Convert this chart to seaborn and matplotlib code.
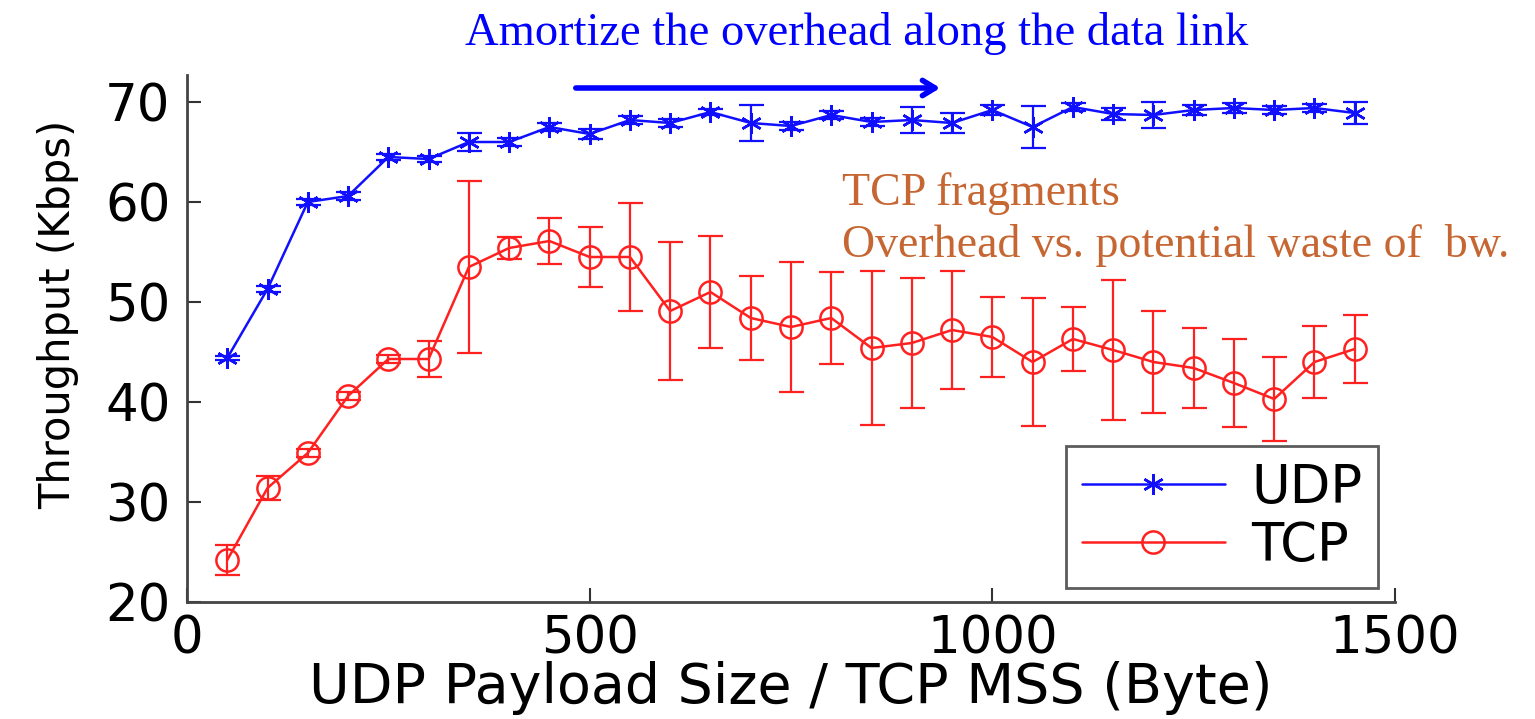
import numpy as np
import pandas as pd
import seaborn as sns
import matplotlib.pyplot as plt

# Data
payload_size = [50, 100, 150, 200, 250, 300, 350, 400, 450, 500,
                550, 600, 650, 700, 750, 800, 850, 900, 950, 1000,
                1050, 1100, 1150, 1200, 1250, 1300, 1350, 1400, 1450]
udp_mean = [44.4, 51.3, 60.0, 60.6, 64.5, 64.3, 66.0, 66.0, 67.5, 66.8,
            68.2, 67.9, 69.0, 67.9, 67.6, 68.7, 68.0, 68.2, 67.9, 69.2,
            67.5, 69.5, 68.8, 68.7, 69.2, 69.4, 69.2, 69.4, 68.9]
udp_err = [0.2, 0.3, 0.3, 0.4, 0.3, 0.3, 0.9, 0.4, 0.4, 0.5,
           0.4, 0.4, 0.3, 1.8, 0.4, 0.4, 0.4, 1.3, 1.0, 0.5,
           2.1, 0.4, 0.6, 1.3, 0.5, 0.5, 0.4, 0.4, 1.1]
tcp_mean = [24.2, 31.4, 34.9, 40.6, 44.3, 44.3, 53.5, 55.4, 56.1, 54.5,
            54.5, 49.1, 51.0, 48.4, 47.5, 48.4, 45.4, 45.9, 47.2, 46.5,
            44.0, 46.3, 45.2, 44.0, 43.4, 41.9, 40.3, 44.0, 45.3]
tcp_err = [1.5, 1.2, 0.4, 0.4, 0.4, 1.8, 8.6, 1.1, 2.3, 3.0,
           5.4, 6.9, 5.6, 4.2, 6.5, 4.6, 7.7, 6.5, 5.9, 4.0,
           6.4, 3.2, 7.0, 5.1, 4.0, 4.4, 4.2, 3.6, 3.4]
x_ticks = [0, 500, 1000, 1500]
y_ticks = [20, 30, 40, 50, 60, 70]

df = pd.DataFrame({'size': payload_size, 'udp': udp_mean, 'udp_err': udp_err,
                   'tcp': tcp_mean, 'tcp_err': tcp_err})

sns.set_style('ticks')
plt.rcParams['font.family'] = ['DejaVu Sans']
plt.rcParams['text.color'] = 'black'

fig = plt.figure(figsize=(15.35, 7.19), dpi=100)
ax = fig.add_axes([187 / 1535, 1 - 602 / 719, (1395 - 187) / 1535, (602 - 75) / 719])

udp_color = '#1010FF'
tcp_color = '#FF2020'

# error bars
ax.errorbar(df['size'], df['udp'], yerr=df['udp_err'], fmt='none', ecolor=udp_color,
            elinewidth=1.6, capsize=9, capthick=1.6)
ax.errorbar(df['size'], df['tcp'], yerr=df['tcp_err'], fmt='none', ecolor=tcp_color,
            elinewidth=1.6, capsize=9, capthick=1.6)

sns.lineplot(data=df, x='size', y='udp', ax=ax, color=udp_color, lw=1.8,
             marker=(6, 2, 0), markersize=15, markeredgecolor=udp_color,
             markeredgewidth=1.8, label='UDP')
sns.lineplot(data=df, x='size', y='tcp', ax=ax, color=tcp_color, lw=1.8,
             marker='o', markersize=16, markerfacecolor='none', markeredgecolor=tcp_color,
             markeredgewidth=1.8, label='TCP')

ax.set_xlim(0, 1500)
ax.set_ylim(20, 72.7)
ax.set_xticks(x_ticks)
ax.set_yticks(y_ticks)
ax.tick_params(direction='in', length=10, width=1.5, colors='#333333',
               labelsize=37, labelcolor='black')
ax.tick_params(axis='x', pad=9)
ax.tick_params(axis='y', pad=12)
for side in ['top', 'right']:
    ax.spines[side].set_visible(False)
for side in ['left', 'bottom']:
    ax.spines[side].set_color('#444444')
    ax.spines[side].set_linewidth(2)

ax.set_xlabel('UDP Payload Size / TCP MSS (Byte)', fontsize=40, color='black')
ax.xaxis.set_label_coords(0.5, -0.112)
ax.set_ylabel('Throughput (Kbps)', fontsize=30, color='black')
ax.yaxis.set_label_coords(-0.089, 0.545)

leg = ax.legend(loc='lower right', bbox_to_anchor=(0.986, 0.027), borderaxespad=0,
                fontsize=38, frameon=True, fancybox=False, handlelength=2.7,
                handletextpad=0.5, labelspacing=0.12, borderpad=0.3)
leg.get_frame().set_edgecolor('#333333')
leg.get_frame().set_linewidth(2)
for t in leg.get_texts():
    t.set_color('black')

# annotations
fig.text(465 / 1535, 1 - 45 / 719, 'Amortize the overhead along the data link',
         color='#0000FF', fontsize=33.5, family='Liberation Serif', va='baseline')
ax.annotate('', xy=(943 / 1535, 1 - 88 / 719), xytext=(573 / 1535, 1 - 88 / 719),
            xycoords='figure fraction', textcoords='figure fraction',
            arrowprops=dict(arrowstyle='->, head_length=0.9, head_width=0.55',
                            color='#0000FF', lw=4))
fig.text(842 / 1535, 1 - 205 / 719, 'TCP fragments', color='#C66733', fontsize=33,
         family='Liberation Serif', va='baseline')
fig.text(842 / 1535, 1 - 257 / 719, 'Overhead vs. potential waste of  bw.',
         color='#C66733', fontsize=33, family='Liberation Serif', va='baseline')

fig.savefig('out.png', dpi=100)
